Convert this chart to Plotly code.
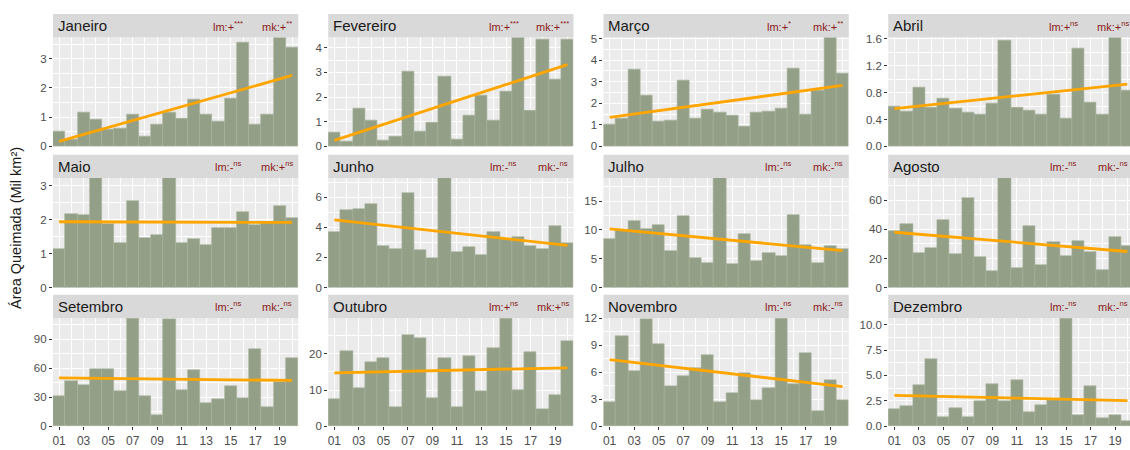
import numpy as np
import plotly.graph_objects as go

# Monthly burned area per year (thousand km²), years 2001-2020
years = list(range(1, 21))
year_labels = [f"{y:02d}" for y in years]

months = ["Janeiro", "Fevereiro", "Março", "Abril", "Maio", "Junho",
          "Julho", "Agosto", "Setembro", "Outubro", "Novembro", "Dezembro"]

janeiro = [0.50, 0.25, 1.17, 0.92, 0.58, 0.60, 1.09, 0.33, 0.76, 1.15,
           0.96, 1.62, 1.10, 0.84, 1.63, 3.57, 0.76, 1.11, 3.73, 3.40]
fevereiro = [0.57, 0.22, 1.54, 1.05, 0.26, 0.41, 3.03, 0.62, 0.96, 2.84,
             0.28, 1.26, 2.05, 1.07, 2.24, 4.42, 1.46, 4.32, 2.70, 4.35]
marco = [1.00, 1.32, 3.56, 2.37, 1.16, 1.19, 3.08, 1.28, 1.70, 1.56,
         1.43, 0.95, 1.59, 1.64, 1.76, 3.60, 1.49, 2.60, 5.05, 3.37]
abril = [0.59, 0.52, 0.87, 0.58, 0.72, 0.57, 0.51, 0.48, 0.64, 1.58,
         0.58, 0.53, 0.47, 0.78, 0.41, 1.46, 0.66, 0.47, 1.62, 0.83]
maio = [1.13, 2.18, 2.15, 3.23, 1.86, 1.32, 2.56, 1.46, 1.54, 3.23,
        1.32, 1.42, 1.26, 1.75, 1.77, 2.23, 1.84, 1.89, 2.41, 2.05]
junho = [3.72, 5.18, 5.20, 5.57, 2.75, 2.56, 6.30, 2.49, 1.94, 7.27,
         2.37, 2.71, 2.19, 3.66, 3.25, 3.38, 2.75, 2.54, 4.09, 2.99]
julho = [8.5, 9.9, 11.6, 10.2, 10.8, 6.4, 12.4, 5.05, 4.33, 19.0,
         4.1, 9.27, 4.66, 6.07, 5.45, 12.53, 7.36, 4.33, 7.25, 6.63]
agosto = [38.6, 43.5, 23.7, 27.5, 46.7, 23.0, 61.6, 20.8, 11.2, 75.4,
          13.4, 42.4, 15.8, 31.2, 21.9, 32.4, 24.8, 11.8, 34.6, 28.6]
setembro = [31.2, 46.3, 42.0, 59.4, 59.4, 35.9, 111.7, 31.2, 11.4, 110.7,
            37.6, 58.0, 23.5, 27.5, 40.9, 29.2, 79.5, 19.8, 46.0, 70.5]
outubro = [7.4, 20.7, 10.4, 17.6, 18.8, 5.4, 25.3, 24.3, 7.7, 18.8,
           5.25, 19.4, 9.6, 21.7, 29.9, 10.0, 20.5, 4.8, 8.5, 23.4]
novembro = [2.7, 10.0, 6.1, 11.9, 9.17, 4.5, 5.56, 6.43, 7.87, 2.7,
            3.68, 5.92, 2.89, 4.22, 12.02, 4.69, 8.12, 1.62, 5.13, 2.89]
dezembro = [1.69, 1.98, 4.06, 6.58, 0.86, 1.82, 0.93, 2.49, 4.15, 2.43,
            4.54, 1.41, 2.08, 2.55, 10.64, 1.05, 3.90, 0.80, 1.09, 0.54]

series = [janeiro, fevereiro, marco, abril, maio, junho,
          julho, agosto, setembro, outubro, novembro, dezembro]

# Trend test results (linear model and Mann-Kendall)
lm_sign = ["+", "+", "+", "+", "-", "-", "-", "-", "-", "+", "-", "-"]
lm_stars = ["***", "***", "*", "ns", "ns", "ns", "ns", "ns", "ns", "ns", "ns", "ns"]
mk_sign = ["+", "+", "+", "+", "+", "-", "-", "-", "-", "+", "-", "-"]
mk_stars = ["**", "***", "**", "ns", "ns", "ns", "ns", "ns", "ns", "ns", "ns", "ns"]

# y-axis break spacing per panel
y_dtick = [1, 1, 1, 0.4, 1, 2, 5, 20, 30, 10, 3, 2.5]
y_format = ["", "", "", ".1f", "", "", "", "", "", "", "", ".1f"]

# ---- layout geometry (pixels) ----
W, H = 1130, 450
col_x = [(52, 297.5), (327.5, 573), (603, 848.5), (888, 1133.5)]
row_y = [(32.3, 144.3), (176.7, 289.3), (320.7, 431.7)]
strip_h = 24

BAR = "#93A087"
BAR_EDGE = "#A6B19A"
TREND = "#FFA500"
PANEL_BG = "#EBEBEB"
STRIP_BG = "#D9D9D9"
SIG = "#8B1A1A"
FONT = "Liberation Sans, Arial, sans-serif"


def px(x):
    return x / W


def py(y):
    return 1 - y / H


fig = go.Figure()
layout = dict(
    width=W, height=H,
    margin=dict(l=0, r=0, t=0, b=0),
    paper_bgcolor="white",
    plot_bgcolor=PANEL_BG,
    showlegend=False,
    bargap=0,
    font=dict(family=FONT, color="#4D4D4D"),
)
shapes = []
annotations = []

for i, (name, vals) in enumerate(zip(months, series)):
    r, c = divmod(i, 4)
    k = "" if i == 0 else str(i + 1)
    x0, x1 = col_x[c]
    top, bot = row_y[r]
    vis_x1 = min(x1, W)
    x_end = 0.5 + 20 * (vis_x1 - x0) / (x1 - x0)

    fig.add_trace(go.Bar(
        x=years, y=vals, width=1,
        marker=dict(color=BAR, line=dict(color=BAR_EDGE, width=0.6)),
        xaxis="x" + k, yaxis="y" + k, hoverinfo="x+y",
    ))

    slope, intercept = np.polyfit(years, vals, 1)
    xs = [years[0], years[-1]]
    fig.add_trace(go.Scatter(
        x=xs, y=[intercept + slope * v for v in xs], mode="lines",
        line=dict(color=TREND, width=2.8),
        xaxis="x" + k, yaxis="y" + k, hoverinfo="skip",
    ))

    bottom_row = r == 2
    layout["xaxis" + k] = dict(
        domain=[px(x0), px(vis_x1)], anchor="y" + k,
        range=[0.5, x_end], fixedrange=True,
        tickmode="array", tickvals=years[::2], ticktext=year_labels[::2],
        showticklabels=bottom_row,
        ticks="outside" if bottom_row else "", ticklen=3, tickwidth=1,
        tickcolor="#333333",
        tickfont=dict(size=12, color="#4D4D4D"),
        showgrid=True, gridcolor="white", gridwidth=1.2,
        minor=dict(tickmode="array", tickvals=years[1::2], showgrid=True,
                   gridcolor="white", gridwidth=0.6, ticks=""),
        zeroline=False, showline=False,
    )
    layout["yaxis" + k] = dict(
        domain=[py(bot), py(top)], anchor="x" + k,
        range=[0, max(vals)], fixedrange=True,
        tick0=0, dtick=y_dtick[i], tickformat=y_format[i],
        ticks="outside", ticklen=3, tickwidth=1, tickcolor="#333333",
        tickfont=dict(size=11.5, color="#4D4D4D"),
        showgrid=True, gridcolor="white", gridwidth=1.2,
        minor=dict(tick0=0, dtick=y_dtick[i] / 2, showgrid=True,
                   gridcolor="white", gridwidth=0.6, ticks=""),
        zeroline=False, showline=False,
    )

    # facet strip
    s_top, s_bot = top - strip_h, top
    shapes.append(dict(type="rect", xref="paper", yref="paper",
                       x0=px(x0), x1=px(x1), y0=py(s_bot), y1=py(s_top),
                       fillcolor=STRIP_BG, line=dict(width=0), layer="below"))
    ymid = py((s_top + s_bot) / 2)
    annotations.append(dict(xref="paper", yref="paper", x=px(x0 + 3), y=ymid,
                            text=name, showarrow=False, xanchor="left",
                            yanchor="middle",
                            font=dict(size=15, color="#1A1A1A", family=FONT)))
    annotations.append(dict(xref="paper", yref="paper", x=px(x1 - 70), y=ymid,
                            text=f"lm:{lm_sign[i]}<sup>{lm_stars[i]}</sup>",
                            showarrow=False, xanchor="center", yanchor="middle",
                            font=dict(size=11, color=SIG, family=FONT)))
    annotations.append(dict(xref="paper", yref="paper", x=px(x1 - 21), y=ymid,
                            text=f"mk:{mk_sign[i]}<sup>{mk_stars[i]}</sup>",
                            showarrow=False, xanchor="center", yanchor="middle",
                            font=dict(size=11, color=SIG, family=FONT)))

# shared y-axis title
annotations.append(dict(xref="paper", yref="paper", x=px(15), y=py(228),
                        text="Área Queimada (Mil km²)", textangle=-90,
                        showarrow=False, xanchor="center", yanchor="middle",
                        font=dict(size=14.5, color="#1A1A1A", family=FONT)))

layout["shapes"] = shapes
layout["annotations"] = annotations
fig.update_layout(**layout)
fig.write_html("out.html")
